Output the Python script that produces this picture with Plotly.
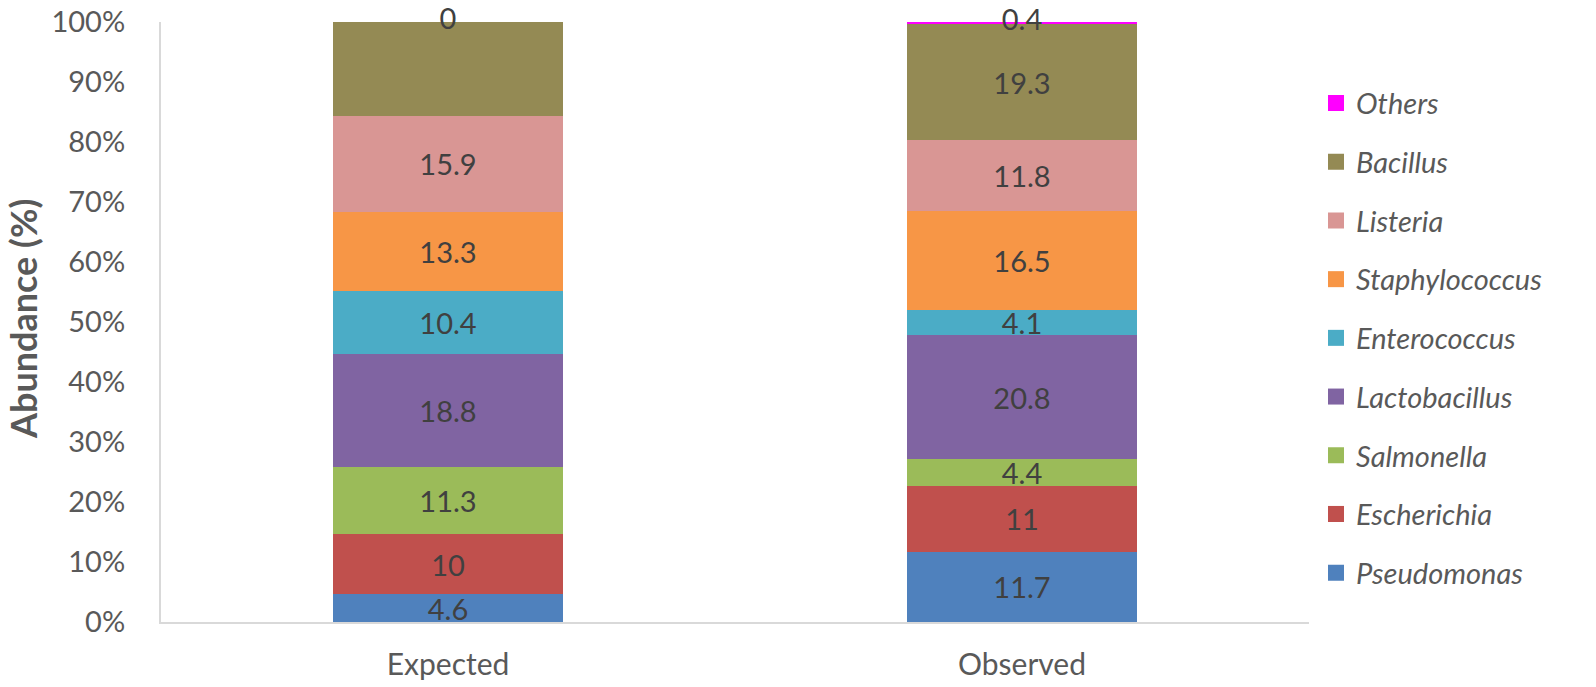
import plotly.graph_objects as go
import numpy as np

categories = ["Expected", "Observed"]
genera = ["Pseudomonas", "Escherichia", "Salmonella", "Lactobacillus",
          "Enterococcus", "Staphylococcus", "Listeria", "Bacillus", "Others"]
pseudomonas = [4.6, 11.7]
escherichia = [10, 11]
salmonella = [11.3, 4.4]
lactobacillus = [18.8, 20.8]
enterococcus = [10.4, 4.1]
staphylococcus = [13.3, 16.5]
listeria = [15.9, 11.8]
bacillus = [15.7, 19.3]
others = [0, 0.4]
y_ticks = [0, 10, 20, 30, 40, 50, 60, 70, 80, 90, 100]

series = [pseudomonas, escherichia, salmonella, lactobacillus, enterococcus,
          staphylococcus, listeria, bacillus, others]
colors = ["#4F81BD", "#C0504D", "#9BBB59", "#8064A2", "#4BACC6",
          "#F79646", "#D99694", "#948A54", "#FF00FF"]

FONT = "Lato, 'Open Sans', sans-serif"
LABEL = "#404040"
TICK = "#595959"

fig = go.Figure()
for name, vals, col in zip(genera, series, colors):
    is_others = name == "Others"
    fig.add_trace(go.Bar(
        x=categories, y=vals, name=name,
        marker=dict(color=col, line=dict(width=0)),
        text=None if is_others else [f"{v:g}" for v in vals],
        textposition="none" if is_others else "inside",
        insidetextanchor="middle",
        textfont=dict(size=29, color=LABEL, family=FONT),
        showlegend=False, hoverinfo="skip",
    ))

# legend entries (square swatches), top of stack listed first
for name, col in reversed(list(zip(genera, colors))):
    fig.add_trace(go.Scatter(
        x=[None], y=[None], mode="markers", name=name, legendgroup=name,
        marker=dict(symbol="square", size=19, color=col), showlegend=True,
    ))

# labels for the thin top segment (Others), placed at the segment middle
below = np.round(np.sum(np.array(series[:-1]), axis=0), 6)
fig.add_trace(go.Scatter(
    x=categories, y=below + np.array(others) / 2, mode="text",
    text=[f"{v:g}" for v in others], textposition="middle center",
    textfont=dict(size=29, color=LABEL, family=FONT),
    showlegend=False, cliponaxis=False, hoverinfo="skip",
))

fig.add_annotation(
    text="<b>Abundance (%)</b>", textangle=-90, xref="paper", yref="paper",
    x=0, y=0.505, xshift=-138, xanchor="center", yanchor="middle", showarrow=False,
    font=dict(size=36, color=TICK, family=FONT),
)

fig.update_layout(
    barmode="stack", bargap=0.6,
    width=1596, height=687,
    margin=dict(l=161, r=287, t=22, b=65, autoexpand=False),
    plot_bgcolor="white", paper_bgcolor="white",
    font=dict(family=FONT, size=29, color=TICK),
    uniformtext=dict(minsize=29, mode="show"),
    showlegend=True,
    legend=dict(
        traceorder="grouped", x=1.0061, xanchor="left", y=0.473, yanchor="middle",
        font=dict(size=29, color=TICK, family=FONT, style="italic"),
        tracegroupgap=18, bgcolor="rgba(0,0,0,0)", itemsizing="trace",
    ),
    xaxis=dict(
        showline=True, linecolor="#D9D9D9", linewidth=2, ticks="",
        tickfont=dict(size=30, color=TICK), showgrid=False, automargin=False,
        ticklabelstandoff=15, range=[-0.5, 1.5], fixedrange=True,
    ),
    yaxis=dict(
        range=[0, 100], tickvals=y_ticks, ticktext=[f"{t}%" for t in y_ticks],
        showline=True, linecolor="#D9D9D9", linewidth=2, showgrid=False,
        ticks="", tickfont=dict(size=29, color=TICK), automargin=False,
        ticklabelstandoff=28, zeroline=False, ticklabeloverflow="allow",
        fixedrange=True,
    ),
)

fig.write_html(
    "out.html",
    config={"displayModeBar": False},
    post_script="document.body.style.margin='0';document.body.style.overflow='hidden';",
)
